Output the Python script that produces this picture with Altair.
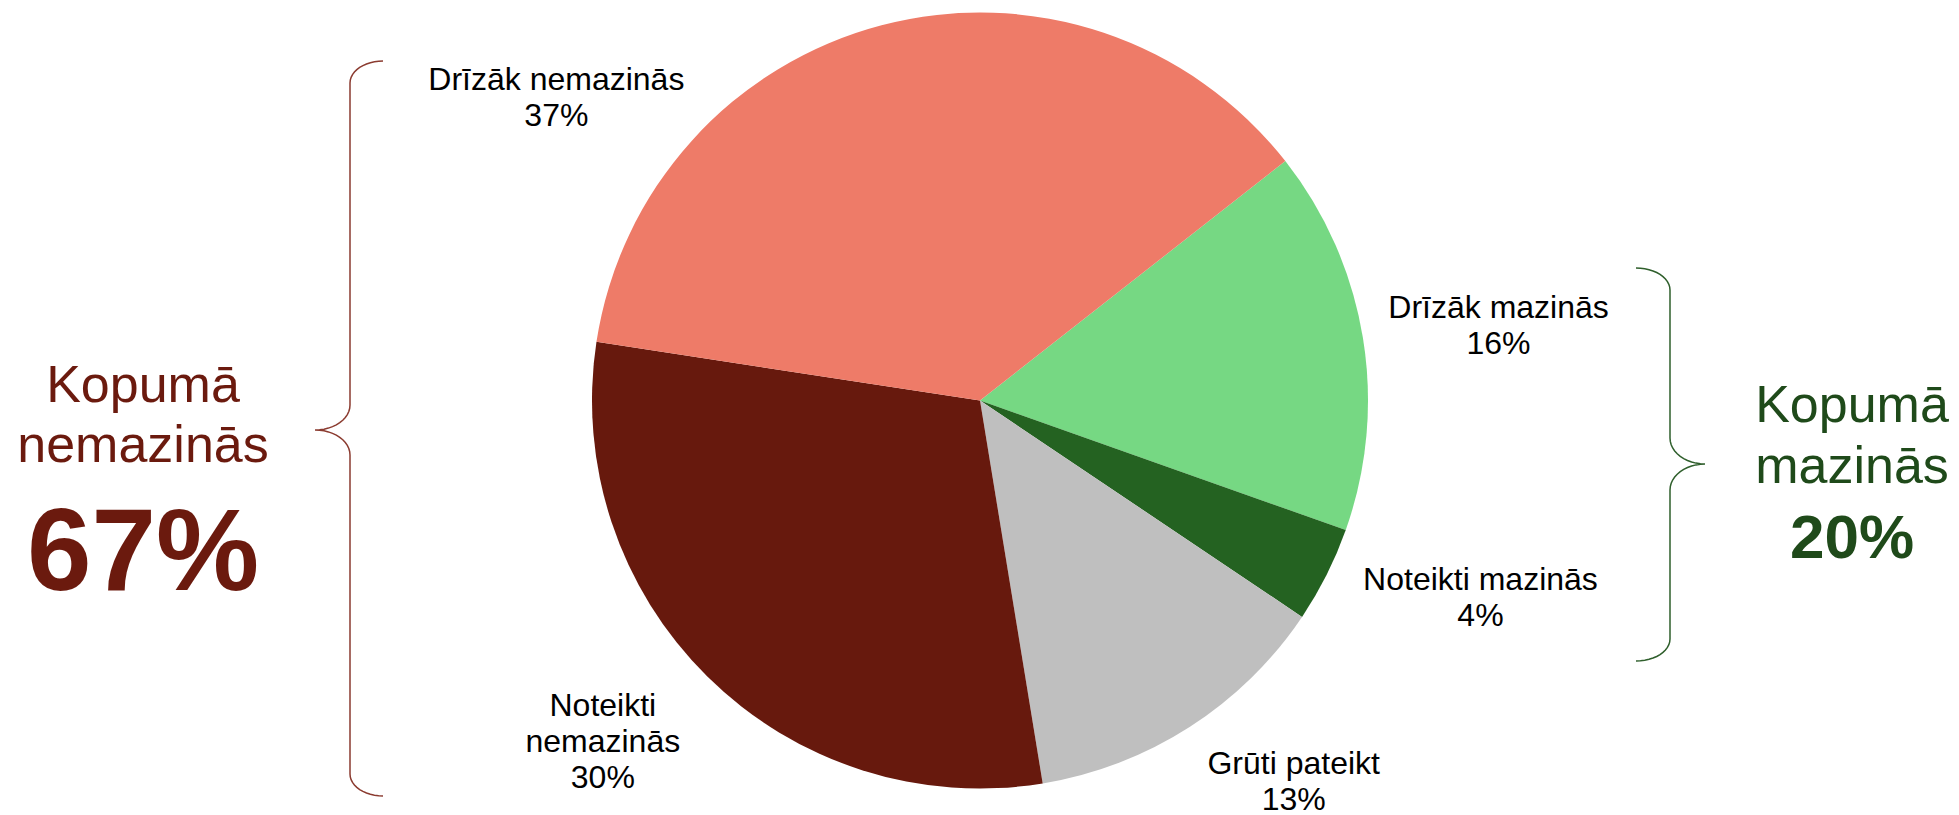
import math
import altair as alt
import pandas as pd

# ---- data ----
categories = ["Drīzāk mazinās", "Noteikti mazinās", "Grūti pateikt", "Noteikti nemazinās", "Drīzāk nemazinās"]
values = [16, 4, 13, 30, 37]
colors = ["#76D883", "#246221", "#BFBFBF", "#67190D", "#EE7B68"]
group_titles = ["Kopumā\nnemazinās", "Kopumā\nmazinās"]
group_members = [["Noteikti nemazinās", "Drīzāk nemazinās"], ["Drīzāk mazinās", "Noteikti mazinās"]]

# ---- layout ----
OFF = 8
W, H = 1943, 807
CX, CY = 980 - OFF, 400.5 - OFF
R = 388
A0 = 51.9  # degrees, start of first slice (clockwise from north)
FONT = "Liberation Sans"

# label placement: angular nudge (deg) from slice mid-angle and distance from centre (px)
lab_dtheta = [0.3, -6.0, -7.3, 5.35, -39.1]
lab_dist = [525, 535, 488, 492, 525]

rows = []
cum = 0.0
for i, (c, v) in enumerate(zip(categories, values)):
    mid = A0 + (cum + v / 2) * 3.6
    cum += v
    ang = math.radians(mid + lab_dtheta[i])
    rows.append({
        "cat": c, "value": v, "idx": i,
        "lab": c.replace("Noteikti nemazinās", "Noteikti\nnemazinās") + "\n" + f"{v}%",
        "lx": CX + lab_dist[i] * math.sin(ang),
        "ly": CY - lab_dist[i] * math.cos(ang),
    })
df = pd.DataFrame(rows)

pie = alt.Chart(df).mark_arc(radius=R).encode(
    x=alt.value(CX), y=alt.value(CY),
    theta=alt.Theta("value:Q", stack=True,
                    scale=alt.Scale(domain=[0, 100], range=[math.radians(A0), math.radians(A0) + 2 * math.pi])),
    order=alt.Order("idx:Q"),
    color=alt.Color("cat:N", scale=alt.Scale(domain=categories, range=colors), legend=None),
)

labels = alt.Chart(df).mark_text(
    align="center", baseline="alphabetic", fontSize=32, lineHeight=36,
    font=FONT, color="black", lineBreak="\n",
).encode(
    x=alt.X("lx:Q", scale=None), y=alt.Y("ly:Q", scale=None), text="lab:N"
)


# ---- braces (decoration) ----
def brace(xl, xe, xt, yt, ym, yb, re, rt, n=12):
    pts = []
    for k in range(n + 1):
        t = k / n * math.pi / 2
        pts.append((xe + (xl - xe) * math.sin(t), yt + re - re * math.cos(t)))
    for k in range(n + 1):
        t = k / n * math.pi / 2
        pts.append((xt + (xl - xt) * math.cos(t), ym - rt + rt * math.sin(t)))
    for k in range(n + 1):
        t = k / n * math.pi / 2
        pts.append((xt + (xl - xt) * math.sin(t), ym + rt - rt * math.cos(t)))
    for k in range(n + 1):
        t = k / n * math.pi / 2
        pts.append((xe + (xl - xe) * math.cos(t), yb - re + re * math.sin(t)))
    return pd.DataFrame({"bx": [p[0] - OFF for p in pts], "by": [p[1] - OFF for p in pts],
                         "i": list(range(len(pts)))})


left_brace = alt.Chart(brace(350, 383, 315, 61, 430, 796, 22, 25)).mark_line(
    color="#8B3B30", strokeWidth=1.5).encode(
    x=alt.X("bx:Q", scale=None), y=alt.Y("by:Q", scale=None), order="i:Q")
right_brace = alt.Chart(brace(1670, 1636, 1705, 268, 464, 661, 22, 26)).mark_line(
    color="#2F5F2C", strokeWidth=1.5).encode(
    x=alt.X("bx:Q", scale=None), y=alt.Y("by:Q", scale=None), order="i:Q")

totals = [sum(v for c, v in zip(categories, values) if c in g) for g in group_members]

left_title = alt.Chart(pd.DataFrame({"t": [group_titles[0]]})).mark_text(
    align="center", baseline="alphabetic", fontSize=52, lineHeight=60, font=FONT,
    color="#6B1A0E", lineBreak="\n").encode(x=alt.value(143 - OFF), y=alt.value(402 - OFF), text="t:N")
left_total = alt.Chart(pd.DataFrame({"t": [f"{totals[0]}%"]})).mark_text(
    align="center", baseline="alphabetic", fontSize=116, fontWeight="bold", font=FONT,
    color="#6B1A0E").encode(x=alt.value(143 - OFF), y=alt.value(590 - OFF), text="t:N")
right_title = alt.Chart(pd.DataFrame({"t": [group_titles[1]]})).mark_text(
    align="center", baseline="alphabetic", fontSize=52, lineHeight=61, font=FONT,
    color="#1F4A1A", lineBreak="\n").encode(x=alt.value(1852 - OFF), y=alt.value(422 - OFF), text="t:N")
right_total = alt.Chart(pd.DataFrame({"t": [f"{totals[1]}%"]})).mark_text(
    align="center", baseline="alphabetic", fontSize=62, fontWeight="bold", font=FONT,
    color="#1F4A1A").encode(x=alt.value(1852 - OFF), y=alt.value(558 - OFF), text="t:N")

chart = alt.layer(pie, labels, left_brace, right_brace, left_title, left_total, right_title, right_total).properties(
    width=W, height=H, padding=0, autosize="none", background="white"
).configure_view(strokeWidth=0)

chart.save("out.html", embed_options={"renderer": "svg", "actions": False})
